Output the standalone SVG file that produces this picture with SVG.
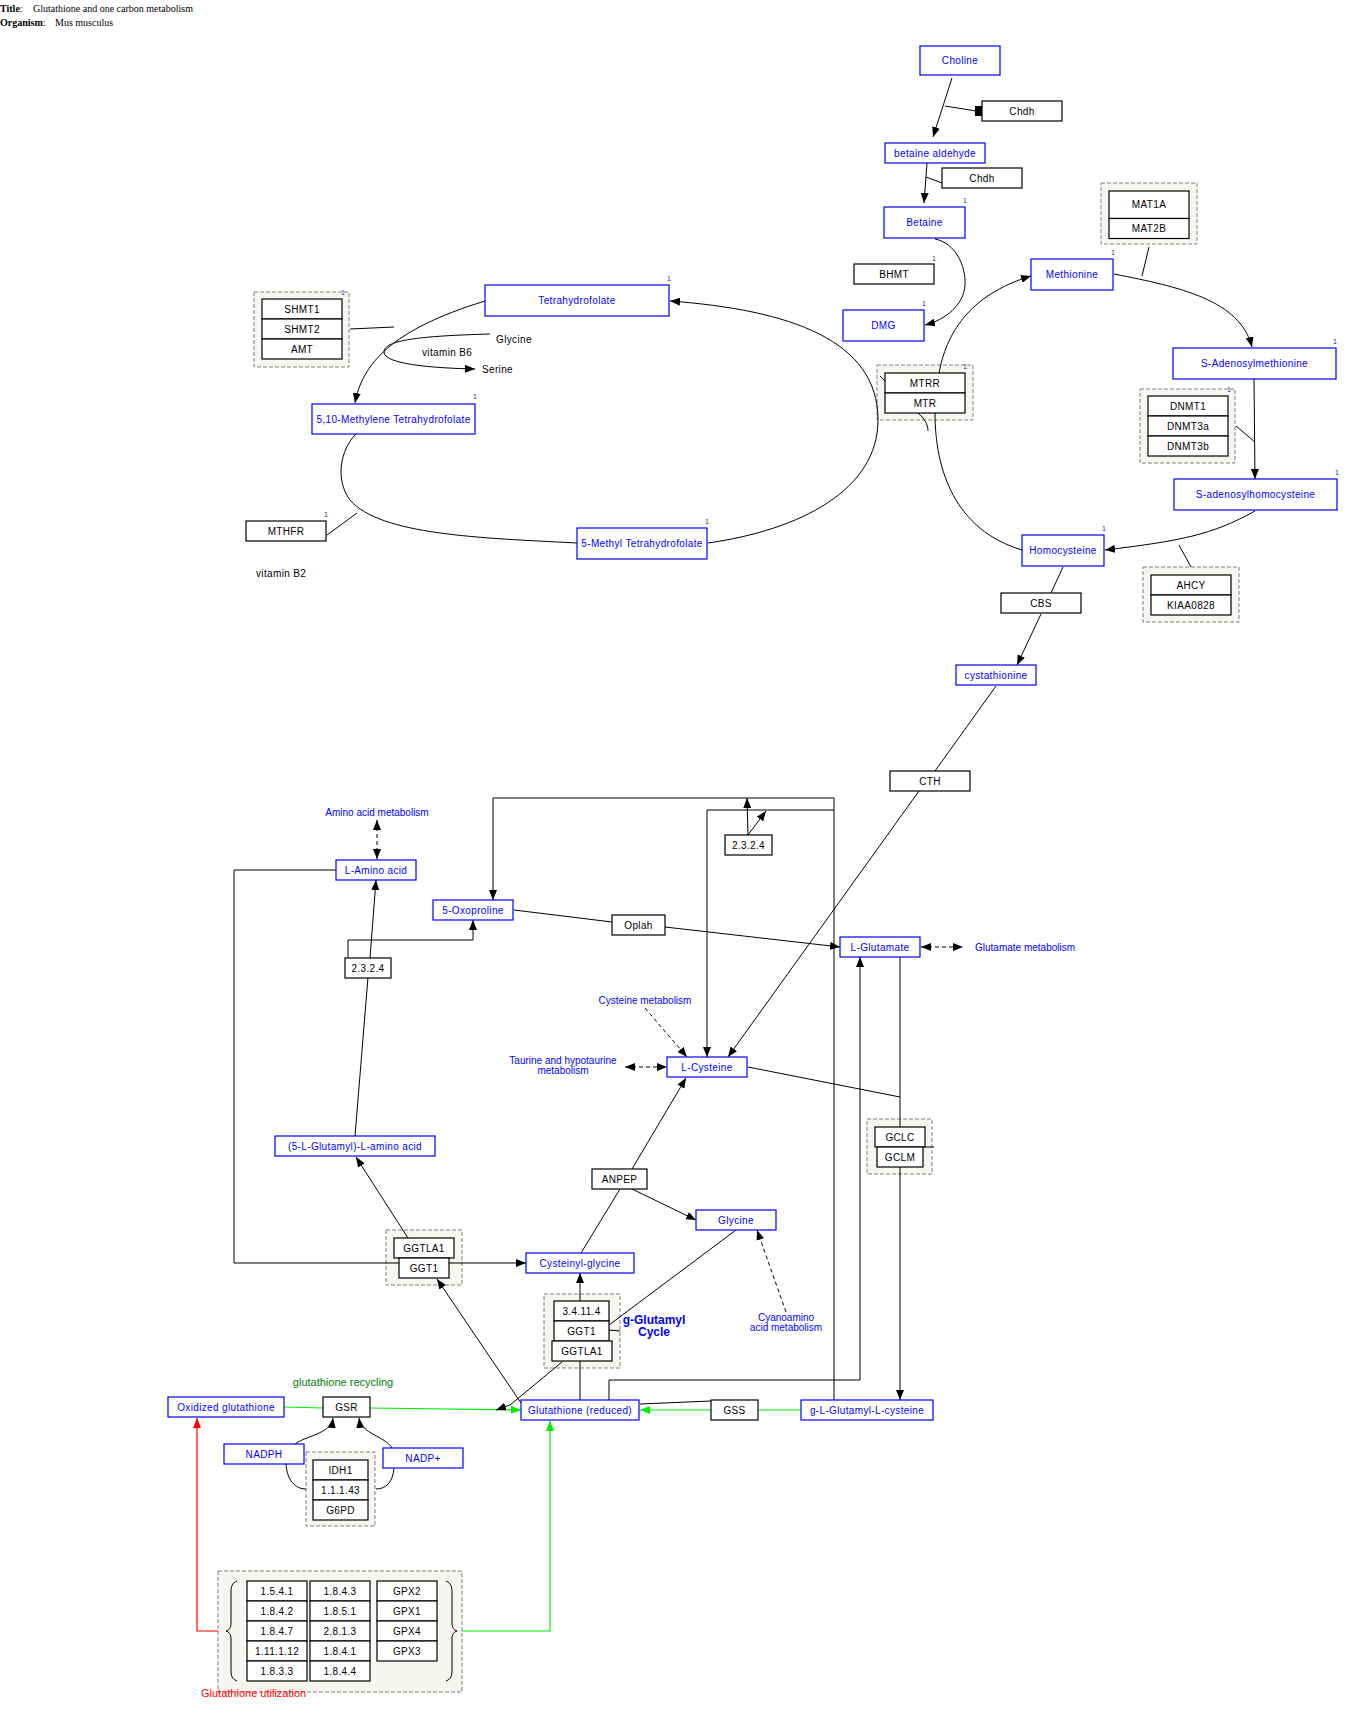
<svg xmlns="http://www.w3.org/2000/svg" width="1366" height="1730" viewBox="0 0 1366 1730">
  <style>
    .met rect { fill: #ffffff; stroke: #0000ff; stroke-width: 1.2; }
    .met text { fill: #0000ff; font-family: "Liberation Sans", Arial, sans-serif; font-size: 10px; letter-spacing: 0.35px; text-anchor: middle; }
    .gene rect { fill: #ffffff; stroke: #000000; stroke-width: 1.2; }
    .gene text { fill: #000000; font-family: "Liberation Sans", Arial, sans-serif; font-size: 10px; letter-spacing: 0.35px; text-anchor: middle; }
    .grp { fill: #f6f5ef; stroke: #808080; stroke-width: 1; stroke-dasharray: 4 2; }
    .met text.num, .gene text.num { fill: #2a2a9a; font-family: "Liberation Sans", Arial, sans-serif; font-size: 7px; letter-spacing: 0; text-anchor: end; }
    .lbl { fill: #0000ff; font-family: "Liberation Sans", Arial, sans-serif; font-size: 10px; text-anchor: middle; }
    .lbl-left { fill: #0000ff; font-family: "Liberation Sans", Arial, sans-serif; font-size: 10px; text-anchor: start; }
    .cycle { fill: #0000ff; font-family: "Liberation Sans", Arial, sans-serif; font-size: 12px; font-weight: bold; text-anchor: middle; }
    .plain { fill: #000000; font-family: "Liberation Sans", Arial, sans-serif; font-size: 10px; letter-spacing: 0.35px; }
    .ln { fill: none; stroke: #000000; stroke-width: 1; }
    .arr { marker-end: url(#ah); }
    .dash { stroke-dasharray: 4 3; }
    .green { fill: none; stroke: #00ee00; stroke-width: 1.2; }
    .red { fill: none; stroke: #ff0000; stroke-width: 1.2; }
    .title { font-family: "Liberation Serif", "Times New Roman", serif; font-size: 10px; fill: #000000; }
  </style>
  <defs>
    <marker id="ah" viewBox="0 0 10 8" refX="10" refY="4" markerWidth="10" markerHeight="8" markerUnits="userSpaceOnUse" orient="auto">
      <path d="M0,0 L10,4 L0,8 z" fill="#000000"/>
    </marker>
    <marker id="ahs" viewBox="0 0 10 8" refX="10" refY="4" markerWidth="10" markerHeight="8" markerUnits="userSpaceOnUse" orient="auto-start-reverse">
      <path d="M0,0 L10,4 L0,8 z" fill="#000000"/>
    </marker>
    <marker id="ahg" viewBox="0 0 10 8" refX="10" refY="4" markerWidth="10" markerHeight="8" markerUnits="userSpaceOnUse" orient="auto">
      <path d="M0,0 L10,4 L0,8 z" fill="#00ee00"/>
    </marker>
    <marker id="ahr" viewBox="0 0 10 8" refX="10" refY="4" markerWidth="10" markerHeight="8" markerUnits="userSpaceOnUse" orient="auto">
      <path d="M0,0 L10,4 L0,8 z" fill="#ff0000"/>
    </marker>
  </defs>

  <rect x="0" y="0" width="1366" height="1730" fill="#ffffff"/>

  <!-- header -->
  <g id="header">
    <text class="title" x="0" y="12"><tspan font-weight="bold">Title</tspan>:</text>
    <text class="title" x="33" y="12">Glutathione and one carbon metabolism</text>
    <text class="title" x="0" y="26"><tspan font-weight="bold">Organism</tspan>:</text>
    <text class="title" x="55" y="26">Mus musculus</text>
  </g>

  <!-- complex frames (drawn beneath the connectors) -->
  <g id="frames">
    <rect id="grp-mat" class="grp" x="1101" y="183" width="96" height="61"/>
    <rect id="grp-mtr" class="grp" x="877" y="365" width="96" height="55"/>
    <rect id="grp-dnmt" class="grp" x="1140" y="389" width="95" height="74"/>
    <rect id="grp-ahcy" class="grp" x="1143" y="567" width="96" height="55"/>
    <rect id="grp-shmt" class="grp" x="254" y="292" width="95" height="75"/>
    <rect id="grp-gcl" class="grp" x="867" y="1119" width="65" height="55"/>
    <rect id="grp-ggt-a" class="grp" x="386" y="1230" width="76" height="55"/>
    <rect id="grp-ggt-b" class="grp" x="544" y="1294" width="76" height="74"/>
    <rect id="grp-idh" class="grp" x="306" y="1452" width="69" height="74"/>
    <rect id="grp-util" class="grp" x="218" y="1571" width="244" height="121"/>
  </g>

  <!-- connectors -->
  <g id="connectors">
    <!-- choline branch -->
    <line class="ln arr" x1="952" y1="78" x2="933" y2="137"/>
    <line class="ln" x1="945" y1="106" x2="976" y2="111"/>
    <rect x="975" y="106" width="7" height="10" fill="#000000"/>
    <line class="ln arr" x1="927" y1="163" x2="924" y2="203"/>
    <line class="ln" x1="926" y1="177" x2="942" y2="183"/>
    <path class="ln arr" d="M935,239 C955,243 966,265 965,285 C964,305 945,320 925,325"/>

    <!-- methionine cycle -->
    <path class="ln arr" d="M939,373 C946,335 968,295 1031,276"/>
    <path class="ln arr" d="M1114,274 C1180,287 1240,300 1252,347"/>
    <line class="ln" x1="1149" y1="247" x2="1142" y2="276"/>
    <line class="ln arr" x1="1254" y1="379" x2="1255" y2="479"/>
    <line class="ln" x1="1236" y1="426" x2="1255" y2="442"/>
    <path class="ln arr" d="M1255,511 C1212,535 1180,541 1105,550"/>
    <line class="ln" x1="1179" y1="545" x2="1191" y2="567"/>
    <path class="ln" d="M935,413 C935,470 955,530 1022,550"/>
    <line class="ln" x1="880" y1="376" x2="885" y2="381"/>
    <path class="ln" d="M918,413 C924,418 928,424 928,431"/>

    <!-- folate cycle -->
    <path class="ln arr" d="M485,301 C390,330 362,365 355,403"/>
    <line class="ln" x1="350" y1="329" x2="394" y2="327"/>
    <path class="ln arr" d="M490,334 C420,336 384,340 384,352 C384,364 430,368 475,369"/>
    <path class="ln" d="M356,434 C340,450 335,480 350,500 C380,535 480,538 577,543"/>
    <line class="ln" x1="327" y1="535" x2="357" y2="513"/>
    <path class="ln arr" d="M708,543 C800,530 878,490 878,420 C878,340 790,310 670,301"/>

    <!-- transsulfuration -->
    <line class="ln" x1="1063" y1="567" x2="1051" y2="593"/>
    <line class="ln arr" x1="1041" y1="614" x2="1017" y2="665"/>
    <line class="ln" x1="996" y1="686" x2="935" y2="771"/>
    <line class="ln arr" x1="919" y1="791" x2="728" y2="1057"/>

    <!-- gamma-glutamyl cycle -->
    <polyline class="ln arr" points="834,1400 834,798 493,798 493,900"/>
    <polyline class="ln arr" points="834,810 707,810 707,1057"/>
    <line class="ln arr" x1="748" y1="835" x2="747" y2="798"/>
    <line class="ln arr" x1="748" y1="835" x2="766" y2="811"/>
    <line class="ln" x1="514" y1="910" x2="612" y2="922"/>
    <line class="ln arr" x1="665" y1="927" x2="840" y2="947"/>
    <line class="ln arr" x1="370" y1="958" x2="376" y2="880"/>
    <polyline class="ln arr" points="348,958 348,940 473,940 473,920"/>
    <line class="ln" x1="368" y1="977" x2="355" y2="1136"/>
    <polyline class="ln arr" points="336,870 234,870 234,1263 526,1263"/>
    <line class="ln arr" x1="408" y1="1238" x2="356" y2="1157"/>
    <line class="ln arr" x1="521" y1="1403" x2="437" y2="1279"/>
    <line class="ln" x1="581" y1="1253" x2="620" y2="1189"/>
    <line class="ln arr" x1="632" y1="1169" x2="686" y2="1078"/>
    <line class="ln arr" x1="632" y1="1189" x2="696" y2="1220"/>
    <line class="ln" x1="736" y1="1230" x2="609" y2="1325"/>
    <line class="ln" x1="609" y1="1330" x2="620" y2="1331"/>
    <line class="ln arr" x1="580" y1="1301" x2="580" y2="1273"/>
    <line class="ln" x1="580" y1="1361" x2="580" y2="1400"/>
    <line class="ln" x1="748" y1="1067" x2="900" y2="1097"/>
    <line class="ln" x1="900" y1="957" x2="900" y2="1127"/>
    <line class="ln arr" x1="900" y1="1167" x2="900" y2="1400"/>
    <line class="ln" x1="925" y1="1147" x2="934" y2="1147"/>
    <polyline class="ln arr" points="609,1400 609,1380 860,1380 860,957"/>
    <line class="ln" x1="711" y1="1401" x2="640" y2="1404"/>

    <!-- pathway links -->
    <line class="ln dash" x1="377" y1="820" x2="377" y2="859" marker-start="url(#ahs)" marker-end="url(#ah)"/>
    <line class="ln dash" x1="625" y1="1067" x2="667" y2="1067" marker-start="url(#ahs)" marker-end="url(#ah)"/>
    <line class="ln dash" x1="921" y1="947" x2="963" y2="947" marker-start="url(#ahs)" marker-end="url(#ah)"/>
    <line class="ln dash arr" x1="645" y1="1008" x2="687" y2="1057"/>
    <line class="ln dash arr" x1="786" y1="1312" x2="757" y2="1230"/>

    <!-- glutathione recycling -->
    <line class="green" x1="284" y1="1407" x2="323" y2="1408"/>
    <line class="green" x1="371" y1="1408" x2="521" y2="1410" marker-end="url(#ahg)"/>
    <line class="green" x1="801" y1="1410" x2="758" y2="1410"/>
    <line class="green" x1="711" y1="1410" x2="640" y2="1410" marker-end="url(#ahg)"/>
    <polyline class="ln arr" points="562,1362 510,1405 496,1410"/>
    <path class="ln arr" d="M295,1444 C305,1436 331,1434 333,1418"/>
    <path class="ln arr" d="M392,1448 C385,1436 361,1434 359,1418"/>
    <path class="ln" d="M286,1464 C287,1480 295,1489 306,1489"/>
    <path class="ln" d="M394,1468 C393,1482 386,1489 376,1489"/>

    <!-- glutathione utilization -->
    <polyline class="red" points="218,1631 197,1631 197,1418" marker-end="url(#ahr)"/>
    <polyline class="green" points="462,1631 550,1631 550,1421" marker-end="url(#ahg)"/>
    <path class="ln" d="M237,1581 C232,1583 231,1587 231,1592 L231,1623 C231,1628 229,1630 226,1631 C229,1632 231,1634 231,1639 L231,1670 C231,1676 232,1679 237,1681"/>
    <path class="ln" d="M446,1581 C451,1583 452,1587 452,1592 L452,1623 C452,1628 454,1630 457,1631 C454,1632 452,1634 452,1639 L452,1670 C452,1676 451,1679 446,1681"/>
  </g>

  <!-- metabolites -->
  <g id="n-choline" class="met"><rect x="920" y="46" width="80" height="29"/><text x="960" y="64">Choline</text></g>
  <g id="n-betald" class="met"><rect x="885" y="143" width="100" height="20"/><text x="935" y="156.5">betaine aldehyde</text></g>
  <g id="n-betaine" class="met"><rect x="884" y="207" width="81" height="31"/><text x="924.5" y="226">Betaine</text><text class="num" x="967" y="203">1</text></g>
  <g id="n-dmg" class="met"><rect x="843" y="310" width="81" height="31"/><text x="883.5" y="329">DMG</text><text class="num" x="926" y="306">1</text></g>
  <g id="n-methionine" class="met"><rect x="1031" y="259" width="82" height="31"/><text x="1072" y="278">Methionine</text><text class="num" x="1115" y="255">1</text></g>
  <g id="n-sam" class="met"><rect x="1173" y="348" width="163" height="31"/><text x="1254.5" y="367">S-Adenosylmethionine</text><text class="num" x="1337" y="344">1</text></g>
  <g id="n-sah" class="met"><rect x="1174" y="479" width="163" height="31"/><text x="1255.5" y="498">S-adenosylhomocysteine</text><text class="num" x="1339" y="475">1</text></g>
  <g id="n-homocys" class="met"><rect x="1022" y="535" width="82" height="31"/><text x="1063" y="554">Homocysteine</text><text class="num" x="1106" y="531">1</text></g>
  <g id="n-cysta" class="met"><rect x="956" y="665" width="80" height="20"/><text x="996" y="678.5">cystathionine</text></g>
  <g id="n-thf" class="met"><rect x="485" y="285" width="184" height="31"/><text x="577" y="304">Tetrahydrofolate</text><text class="num" x="671" y="281">1</text></g>
  <g id="n-mthf" class="met"><rect x="312" y="404" width="163" height="30"/><text x="393.5" y="422.5">5,10-Methylene Tetrahydrofolate</text><text class="num" x="477" y="399">1</text></g>
  <g id="n-5mthf" class="met"><rect x="577" y="528" width="130" height="31"/><text x="642" y="547">5-Methyl Tetrahydrofolate</text><text class="num" x="709" y="524">1</text></g>
  <g id="n-laa" class="met"><rect x="336" y="860" width="80" height="20"/><text x="376" y="873.5">L-Amino acid</text></g>
  <g id="n-oxopro" class="met"><rect x="433" y="900" width="80" height="20"/><text x="473" y="913.5">5-Oxoproline</text></g>
  <g id="n-glu" class="met"><rect x="840" y="937" width="80" height="20"/><text x="880" y="950.5">L-Glutamate</text></g>
  <g id="n-cys" class="met"><rect x="667" y="1057" width="80" height="20"/><text x="707" y="1070.5">L-Cysteine</text></g>
  <g id="n-glutaa" class="met"><rect x="275" y="1136" width="160" height="20"/><text x="355" y="1149.5">(5-L-Glutamyl)-L-amino acid</text></g>
  <g id="n-gly" class="met"><rect x="696" y="1210" width="80" height="20"/><text x="736" y="1223.5">Glycine</text></g>
  <g id="n-cysgly" class="met"><rect x="526" y="1253" width="108" height="20"/><text x="580" y="1266.5">Cysteinyl-glycine</text></g>
  <g id="n-gssg" class="met"><rect x="168" y="1397" width="116" height="20"/><text x="226" y="1410.5">Oxidized glutathione</text></g>
  <g id="n-gsh" class="met"><rect x="521" y="1400" width="118" height="20"/><text x="580" y="1413.5">Glutathione (reduced)</text></g>
  <g id="n-glucys" class="met"><rect x="801" y="1400" width="132" height="20"/><text x="867" y="1413.5">g-L-Glutamyl-L-cysteine</text></g>
  <g id="n-nadph" class="met"><rect x="224" y="1444" width="80" height="20"/><text x="264" y="1457.5">NADPH</text></g>
  <g id="n-nadp" class="met"><rect x="383" y="1448" width="80" height="20"/><text x="423" y="1461.5">NADP+</text></g>

  <!-- gene products -->
  <g id="g-chdh1" class="gene"><rect x="982" y="101" width="80" height="20"/><text x="1022" y="114.5">Chdh</text></g>
  <g id="g-chdh2" class="gene"><rect x="942" y="168" width="80" height="20"/><text x="982" y="181.5">Chdh</text></g>
  <g id="g-bhmt" class="gene"><rect x="854" y="264" width="80" height="20"/><text x="894" y="277.5">BHMT</text><text class="num" x="936" y="261">1</text></g>
  <g id="g-mat" class="gene">
    <rect x="1109" y="191" width="80" height="27.5"/><text x="1149" y="208">MAT1A</text>
    <rect x="1109" y="218.5" width="80" height="20"/><text x="1149" y="232">MAT2B</text>
  </g>
  <g id="g-mtr" class="gene">
    <rect x="885" y="373" width="80" height="20"/><text x="925" y="386.5">MTRR</text>
    <rect x="885" y="393" width="80" height="20"/><text x="925" y="406.5">MTR</text>
    <text class="num" x="967" y="369">1</text>
  </g>
  <g id="g-dnmt" class="gene">
    <rect x="1148" y="396" width="80" height="20"/><text x="1188" y="409.5">DNMT1</text>
    <rect x="1148" y="416" width="80" height="20"/><text x="1188" y="429.5">DNMT3a</text>
    <rect x="1148" y="436" width="80" height="20"/><text x="1188" y="449.5">DNMT3b</text>
    <text class="num" x="1231" y="392">1</text>
  </g>
  <g id="g-ahcy" class="gene">
    <rect x="1151" y="575" width="80" height="20"/><text x="1191" y="588.5">AHCY</text>
    <rect x="1151" y="595" width="80" height="20"/><text x="1191" y="608.5">KIAA0828</text>
  </g>
  <g id="g-cbs" class="gene"><rect x="1001" y="593" width="80" height="20"/><text x="1041" y="606.5">CBS</text></g>
  <g id="g-cth" class="gene"><rect x="890" y="771" width="80" height="20"/><text x="930" y="784.5">CTH</text></g>
  <g id="g-shmt" class="gene">
    <rect x="262" y="299" width="80" height="20"/><text x="302" y="312.5">SHMT1</text>
    <rect x="262" y="319" width="80" height="20"/><text x="302" y="332.5">SHMT2</text>
    <rect x="262" y="339" width="80" height="20"/><text x="302" y="352.5">AMT</text>
    <text class="num" x="345" y="295">1</text>
  </g>
  <g id="g-mthfr" class="gene"><rect x="246" y="521" width="80" height="20"/><text x="286" y="534.5">MTHFR</text><text class="num" x="328" y="517">1</text></g>
  <g id="g-2324a" class="gene"><rect x="345" y="958" width="46" height="20"/><text x="368" y="971.5">2.3.2.4</text></g>
  <g id="g-2324b" class="gene"><rect x="725" y="835" width="47" height="20"/><text x="748.5" y="848.5">2.3.2.4</text></g>
  <g id="g-oplah" class="gene"><rect x="612" y="915" width="53" height="20"/><text x="638.5" y="928.5">Oplah</text></g>
  <g id="g-gcl" class="gene">
    <rect x="875" y="1127" width="50" height="20"/><text x="900" y="1140.5">GCLC</text>
    <rect x="877" y="1147" width="46" height="20"/><text x="900" y="1160.5">GCLM</text>
  </g>
  <g id="g-anpep" class="gene"><rect x="592" y="1169" width="55" height="20"/><text x="619.5" y="1182.5">ANPEP</text></g>
  <g id="g-ggt-a" class="gene">
    <rect x="394" y="1238" width="60" height="20"/><text x="424" y="1251.5">GGTLA1</text>
    <rect x="399" y="1258" width="50" height="20"/><text x="424" y="1271.5">GGT1</text>
  </g>
  <g id="g-ggt-b" class="gene">
    <rect x="554" y="1301" width="55" height="20"/><text x="581.5" y="1314.5">3.4.11.4</text>
    <rect x="554" y="1321" width="55" height="20"/><text x="581.5" y="1334.5">GGT1</text>
    <rect x="552" y="1341" width="60" height="20"/><text x="582" y="1354.5">GGTLA1</text>
  </g>
  <g id="g-gsr" class="gene"><rect x="323" y="1397" width="47" height="20"/><text x="346.5" y="1410.5">GSR</text></g>
  <g id="g-gss" class="gene"><rect x="711" y="1400" width="47" height="20"/><text x="734.5" y="1413.5">GSS</text></g>
  <g id="g-idh" class="gene">
    <rect x="313" y="1460" width="55" height="20"/><text x="340.5" y="1473.5">IDH1</text>
    <rect x="313" y="1480" width="55" height="20"/><text x="340.5" y="1493.5">1.1.1.43</text>
    <rect x="313" y="1500" width="55" height="20"/><text x="340.5" y="1513.5">G6PD</text>
  </g>
  <g id="g-util" class="gene">
    <rect x="247" y="1581" width="60" height="20"/><text x="277" y="1594.5">1.5.4.1</text>
    <rect x="247" y="1601" width="60" height="20"/><text x="277" y="1614.5">1.8.4.2</text>
    <rect x="247" y="1621" width="60" height="20"/><text x="277" y="1634.5">1.8.4.7</text>
    <rect x="247" y="1641" width="60" height="20"/><text x="277" y="1654.5">1.11.1.12</text>
    <rect x="247" y="1661" width="60" height="20"/><text x="277" y="1674.5">1.8.3.3</text>
    <rect x="310" y="1581" width="60" height="20"/><text x="340" y="1594.5">1.8.4.3</text>
    <rect x="310" y="1601" width="60" height="20"/><text x="340" y="1614.5">1.8.5.1</text>
    <rect x="310" y="1621" width="60" height="20"/><text x="340" y="1634.5">2.8.1.3</text>
    <rect x="310" y="1641" width="60" height="20"/><text x="340" y="1654.5">1.8.4.1</text>
    <rect x="310" y="1661" width="60" height="20"/><text x="340" y="1674.5">1.8.4.4</text>
    <rect x="377" y="1581" width="60" height="20"/><text x="407" y="1594.5">GPX2</text>
    <rect x="377" y="1601" width="60" height="20"/><text x="407" y="1614.5">GPX1</text>
    <rect x="377" y="1621" width="60" height="20"/><text x="407" y="1634.5">GPX4</text>
    <rect x="377" y="1641" width="60" height="20"/><text x="407" y="1654.5">GPX3</text>
  </g>

  <!-- free labels -->
  <g id="labels">
    <text class="plain" x="496" y="343">Glycine</text>
    <text class="plain" x="422" y="356">vitamin B6</text>
    <text class="plain" x="482" y="373">Serine</text>
    <text class="plain" x="256" y="577">vitamin B2</text>
    <text class="lbl" x="377" y="816">Amino acid metabolism</text>
    <text class="lbl" x="645" y="1004">Cysteine metabolism</text>
    <text class="lbl" x="563" y="1064">Taurine and hypotaurine</text>
    <text class="lbl" x="563" y="1074">metabolism</text>
    <text class="lbl-left" x="975" y="951">Glutamate metabolism</text>
    <text class="lbl" x="786" y="1321">Cyanoamino</text>
    <text class="lbl" x="786" y="1331">acid metabolism</text>
    <text class="cycle" x="654" y="1324">g-Glutamyl</text>
    <text class="cycle" x="654" y="1336">Cycle</text>
    <text x="343" y="1386" fill="#008000" font-family="Liberation Sans, Arial, sans-serif" font-size="11px" text-anchor="middle">glutathione recycling</text>
    <text x="201" y="1697" fill="#ff0000" font-family="Liberation Sans, Arial, sans-serif" font-size="11px">Glutathione utilization</text>
  </g>
</svg>
